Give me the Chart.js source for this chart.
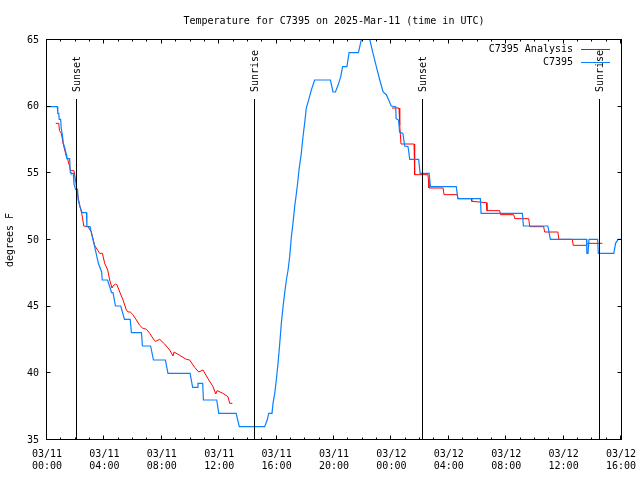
<!DOCTYPE html>
<html>
<head>
<meta charset="utf-8">
<script src="https://cdn.jsdelivr.net/npm/chart.js@4"></script>
<style>
  html, body { margin: 0; padding: 0; background: #fff; }
  #wrap { width: 640px; height: 480px; }
</style>
</head>
<body>
<div id="wrap"><canvas id="grafico"></canvas></div>
<script>
const FONT = '"DejaVu Sans Mono", "Liberation Mono", monospace';

// hours since 03/11 00:00 UTC
const obsHours = [
  0, 0.72, 0.75, 0.82, 0.85, 0.95, 1.00, 1.07, 1.14, 1.24,
  1.35, 1.38, 1.58, 1.62, 1.67, 1.83, 1.88, 1.99, 2.13, 2.17,
  2.30, 2.45, 2.75, 2.78, 3.00, 3.10, 3.30, 3.58, 3.81, 3.85,
  4.22, 4.40, 4.50, 4.60, 4.77, 5.14, 5.40, 5.80, 5.88, 6.58,
  6.65, 7.22, 7.42, 8.25, 8.43, 9.97, 10.15, 10.50, 10.52, 10.85,
  10.90, 11.83, 11.97, 13.18, 13.40, 15.17, 15.36, 15.45, 15.68, 15.75,
  15.87, 15.98, 16.10, 16.22, 16.33, 16.45, 16.56, 16.68, 16.80, 16.91,
  17.03, 17.14, 17.26, 17.38, 17.49, 17.56, 17.72, 17.84, 17.96, 18.07,
  18.26, 18.42, 18.65, 19.75, 19.93, 20.10, 20.28, 20.47, 20.60, 20.90,
  21.05, 21.70, 21.90, 22.15, 22.50, 22.72, 22.95, 23.19, 23.42, 23.65,
  23.85, 23.99, 24.30, 24.33, 24.50, 24.57, 24.80, 24.93, 25.16, 25.28,
  25.90, 26.00, 26.63, 26.72, 28.52, 28.63, 30.20, 30.25, 33.13, 33.20,
  34.90, 35.08, 37.60, 37.62, 37.70, 37.77, 38.37, 38.42, 39.50, 39.62,
  39.80, 40.00
];
const obsTemps = [
  60.0, 60.0, 59.5, 59.5, 59.05, 59.05, 58.3, 57.9, 57.25, 56.9,
  56.4, 56.1, 56.1, 55.1, 55.0, 55.0, 54.2, 53.8, 53.8, 53.0,
  52.5, 52.05, 52.05, 51.0, 51.0, 50.5, 49.6, 48.25, 47.6, 47.0,
  47.0, 46.4, 46.05, 46.05, 45.05, 45.05, 44.05, 44.05, 43.05, 43.05,
  42.05, 42.05, 41.0, 41.0, 40.0, 40.0, 38.95, 38.95, 39.25, 39.25,
  38.0, 38.0, 37.0, 37.0, 36.0, 36.0, 36.55, 37.0, 37.0, 37.75,
  38.5, 39.5, 40.75, 42.25, 43.75, 45.0, 46.0, 47.0, 47.75, 48.75,
  50.25, 51.25, 52.5, 53.5, 54.5, 55.25, 56.5, 57.75, 58.8, 59.9,
  60.6, 61.25, 62.0, 62.0, 61.1, 61.1, 61.6, 62.25, 63.0, 63.0,
  64.05, 64.05, 65.0, 66.5, 65.0, 64.0, 63.0, 62.0, 61.1, 60.9,
  60.4, 60.05, 60.0, 59.1, 59.0, 58.1, 58.0, 57.05, 57.0, 56.05,
  56.05, 55.0, 55.0, 54.0, 54.0, 53.1, 53.1, 52.0, 52.0, 51.05,
  51.05, 50.05, 50.05, 49.0, 49.0, 50.05, 50.05, 49.0, 49.0, 49.75,
  50.05, 50.05
];

// analysis series, null = no analysis during the day
const anaHours = [
  0.61, 0.82, 0.87, 1.00, 1.12, 1.35, 1.43, 1.58, 1.65, 1.88,
  1.98, 2.05, 2.16, 2.28, 2.44, 2.56, 2.86, 3.09, 3.32, 3.55,
  3.67, 3.86, 4.02, 4.23, 4.37, 4.53, 4.60, 4.77, 4.87, 5.07,
  5.30, 5.53, 5.65, 5.80, 5.99, 6.23, 6.46, 6.65, 6.93, 7.16,
  7.46, 7.57, 7.85, 8.20, 8.55, 8.78, 8.85, 9.25, 9.71, 9.94,
  10.29, 10.57, 10.87, 11.22, 11.57, 11.76, 11.85, 12.26, 12.61, 12.73,
  12.92, 18.00, 24.04, 24.53, 24.58, 24.67, 25.58, 25.62, 26.55, 26.58,
  26.62, 27.60, 27.67, 28.57, 28.65, 29.57, 29.60, 30.62, 30.66, 31.55,
  31.60, 32.52, 32.60, 33.57, 33.64, 34.61, 34.68, 35.60, 35.67, 36.61,
  36.67, 37.59, 37.65, 38.70
];
const anaTemps = [
  58.75, 58.75, 58.2, 58.0, 57.25, 56.25, 56.1, 55.5, 55.2, 55.2,
  54.6, 54.0, 53.25, 52.6, 51.9, 51.05, 51.0, 50.6, 49.6, 49.2,
  49.0, 49.0, 48.25, 47.75, 47.0, 46.4, 46.55, 46.7, 46.65, 46.1,
  45.5, 44.75, 44.6, 44.6, 44.4, 44.0, 43.6, 43.4, 43.3, 43.0,
  42.5, 42.4, 42.55, 42.2, 41.75, 41.3, 41.6, 41.35, 41.05, 41.0,
  40.45, 40.1, 40.25, 39.6, 39.0, 38.45, 38.7, 38.5, 38.25, 37.75,
  37.75, null, 59.9, 59.9, 58.6, 57.2, 57.2, 54.9, 54.9, 54.5,
  53.9, 53.9, 53.4, 53.4, 53.1, 53.1, 52.9, 52.8, 52.2, 52.2,
  51.9, 51.9, 51.6, 51.6, 51.0, 51.0, 50.6, 50.6, 50.05, 50.05,
  49.6, 49.6, 49.75, 49.75
];

const sunHours = [2.05, 14.43, 26.13, 38.47];
const sunLabels = ['Sunset', 'Sunrise', 'Sunset', 'Sunrise'];
const tickDays = ['03/11', '03/12'];

const seriesNames = ['C7395 Analysis', 'C7395'];
const seriesColors = ['#ff0000', '#0a80ff'];

const toPoints = (xs, ys) => xs.map((h, i) => ({x: h, y: ys[i]}));

// gnuplot look: frame, inward ticks, sunrise/sunset markers, legend in the corner
const gnuFrame = {
  id: 'gnuFrame',
  afterDatasetsDraw(chart) {
    const {ctx, chartArea: a, scales: {x, y}} = chart;
    const L = a.left - 0.5, R = a.right + 0.5, T = a.top - 0.5, B = a.bottom - 0.5;
    ctx.save();
    ctx.strokeStyle = '#000';
    ctx.fillStyle = '#000';
    ctx.lineWidth = 1;
    ctx.font = '10px ' + FONT;

    sunHours.forEach((h, i) => {
      const px = Math.round(x.getPixelForValue(h)) + 0.5;
      ctx.beginPath();
      ctx.moveTo(px, a.top + 59);
      ctx.lineTo(px, B);
      ctx.stroke();
      ctx.save();
      ctx.translate(px + 1, a.top + 52);
      ctx.rotate(-Math.PI / 2);
      ctx.textAlign = 'left';
      ctx.textBaseline = 'middle';
      ctx.fillText(sunLabels[i], 0, 0);
      ctx.restore();
    });

    ctx.strokeRect(L, T, R - L, B - T);

    ctx.beginPath();
    for (let h = 0; h <= 40; h++) {
      const px = Math.round(x.getPixelForValue(h)) - 0.5;
      const len = h % 4 === 0 ? 4 : 2;
      ctx.moveTo(px, B); ctx.lineTo(px, B - len);
      ctx.moveTo(px, T); ctx.lineTo(px, T + len);
    }
    for (let v = 35; v <= 65; v += 5) {
      const py = Math.round(y.getPixelForValue(v)) - 0.5;
      ctx.moveTo(L, py); ctx.lineTo(L + 4, py);
      ctx.moveTo(R, py); ctx.lineTo(R - 4, py);
    }
    ctx.stroke();

    // legend
    ctx.textAlign = 'right';
    ctx.textBaseline = 'middle';
    seriesNames.forEach((name, i) => {
      const ly = Math.round(a.top + 9 + i * 13) + 0.5;
      ctx.fillStyle = '#000';
      ctx.fillText(name, a.right - 48, ly);
      ctx.strokeStyle = seriesColors[i];
      ctx.beginPath();
      ctx.moveTo(a.right - 40, ly);
      ctx.lineTo(a.right - 11, ly);
      ctx.stroke();
    });
    ctx.restore();
  }
};

new Chart(document.getElementById('grafico'), {
  type: 'line',
  data: {
    datasets: [{
      label: seriesNames[0],
      data: toPoints(anaHours, anaTemps),
      borderColor: seriesColors[0],
      borderWidth: 1,
      pointRadius: 0,
      tension: 0,
      spanGaps: false,
      order: 1
    }, {
      label: seriesNames[1],
      data: toPoints(obsHours, obsTemps),
      borderColor: seriesColors[1],
      borderWidth: 1.2,
      pointRadius: 0,
      tension: 0,
      order: 0
    }]
  },
  options: {
    responsive: true,
    maintainAspectRatio: false,
    animation: false,
    layout: { padding: { left: 0, right: 19, top: 0, bottom: 0 } },
    plugins: {
      legend: { display: false },
      tooltip: { enabled: false },
      title: {
        display: true,
        fullSize: false,
        text: 'Temperature for C7395 on 2025-Mar-11 (time in UTC)',
        color: '#000',
        font: { family: FONT, size: 10, weight: 'normal', lineHeight: 1.2 },
        padding: { top: 15, bottom: 13 }
      }
    },
    scales: {
      x: {
        type: 'linear',
        min: 0,
        max: 40,
        grid: { display: false, drawTicks: false },
        border: { display: false },
        afterFit: (s) => {
          s.height = 40;
          s.paddingLeft = 0;
          s.paddingRight = 0;
        },
        ticks: {
          stepSize: 4,
          autoSkip: false,
          maxRotation: 0,
          padding: 8,
          color: '#000',
          font: { family: FONT, size: 10, lineHeight: 1.25 },
          callback: (v) => {
            const hh = v % 24;
            return [tickDays[Math.floor(v / 24)], String(hh).padStart(2, '0') + ':00'];
          }
        }
      },
      y: {
        min: 35,
        max: 65,
        grid: { display: false, drawTicks: false },
        border: { display: false },
        afterFit: (s) => {
          s.width = 47;
          s.paddingTop = 0;
          s.paddingBottom = 0;
        },
        ticks: {
          stepSize: 5,
          padding: 8,
          color: '#000',
          font: { family: FONT, size: 10 }
        },
        title: {
          display: true,
          text: 'degrees F',
          color: '#000',
          font: { family: FONT, size: 10 },
          padding: { top: 4, bottom: 0 }
        }
      }
    }
  },
  plugins: [gnuFrame]
});
</script>
</body>
</html>
